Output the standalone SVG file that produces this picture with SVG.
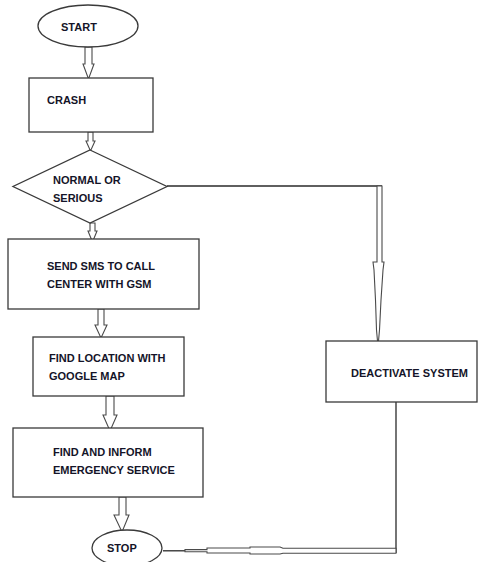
<svg xmlns="http://www.w3.org/2000/svg" width="478" height="562" viewBox="0 0 478 562">
<style>
.box{fill:#fff;stroke:#3a3a3a;stroke-width:1.3}
.t{font-family:"Liberation Sans",Arial,sans-serif;font-weight:bold;font-size:11px;fill:#141428}
.arr{fill:#fff;stroke:#4a4a4a;stroke-width:1.1;stroke-linejoin:miter}
.ln{fill:none;stroke:#2a2a2a;stroke-width:1.3}
</style>
<rect width="478" height="562" fill="#fff"/>
<g id="connectors">
<polygon class="arr" points="85,47 92,47 92,64 94,64 88.5,79 83,64 85,64"/>
<polygon class="arr" points="88,132 93,132 93,141 95,141 90.5,151 86,141 88,141"/>
<polygon class="arr" points="90,223 95,223 95,231 97,231 92.5,242 88,231 90,231"/>
<polygon class="arr" points="98,309 104,309 104,325 107,325 101,338 95,325 98,325"/>
<polygon class="arr" points="106,396 114,396 114,415 117,415 110,431 103,415 106,415"/>
<polygon class="arr" points="119,497 126,497 126,515 129,515 122,532 114,515 119,515"/>
<polyline class="ln" points="167,186 382,186"/>
<polygon class="arr" points="377,186 382,186 382,262 384,262 383,270 381,300 379.5,330 378.5,341 377.5,341 376.5,330 375.5,300 374,270 373,262 377,262"/>
<polyline class="ln" points="396,402 396,553"/>
<line class="ln" x1="163" y1="550.8" x2="185" y2="550.8" stroke-width="1.8"/>
<polygon class="arr" points="396,548.3 396,553.3 283,553.3 280,554 250,554 250,553 207,553 207,551.8 185,551.8 185,549.6 207,549.6 207,548 250,548 250,547 280,547 283,548.3"/>
</g>
<g id="start"><ellipse class="box" cx="88" cy="26" rx="50" ry="21"/><text class="t" x="61" y="31">START</text></g>
<g id="crash"><rect class="box" x="29" y="78" width="124" height="54"/><text class="t" x="47" y="104">CRASH</text></g>
<g id="decision"><polygon class="box" points="90,150 167,186.5 90,223 13,186.5"/><text class="t" x="53" y="184">NORMAL OR</text><text class="t" x="53" y="202">SERIOUS</text></g>
<g id="sms"><rect class="box" x="8" y="239" width="191" height="70"/><text class="t" x="47" y="270">SEND SMS TO CALL</text><text class="t" x="47" y="288">CENTER WITH GSM</text></g>
<g id="location"><rect class="box" x="33" y="337" width="151" height="59"/><text class="t" x="49" y="362">FIND LOCATION WITH</text><text class="t" x="49" y="380">GOOGLE MAP</text></g>
<g id="inform"><rect class="box" x="13" y="428" width="190" height="69"/><text class="t" x="53" y="456">FIND AND INFORM</text><text class="t" x="53" y="474">EMERGENCY SERVICE</text></g>
<g id="deactivate"><rect class="box" x="326" y="341" width="151" height="61"/><text class="t" x="351" y="377">DEACTIVATE SYSTEM</text></g>
<g id="stop"><ellipse class="box" cx="127" cy="548" rx="35" ry="18"/><text class="t" x="107" y="552">STOP</text></g>
</svg>
